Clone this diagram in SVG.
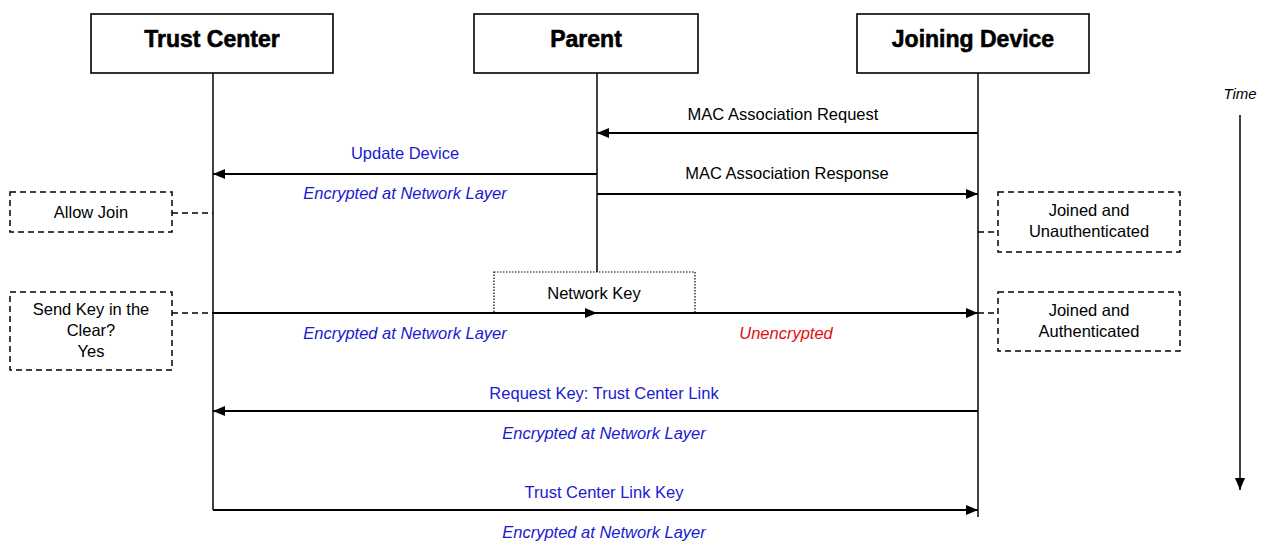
<svg xmlns="http://www.w3.org/2000/svg" width="1271" height="541" viewBox="0 0 1271 541">
<defs>
<marker id="ah" viewBox="0 0 12 10" refX="12" refY="5" markerWidth="12" markerHeight="10" markerUnits="userSpaceOnUse" orient="auto">
<path d="M0,0 L12,5 L0,10 Z" fill="#000"/>
</marker>
</defs>
<style>
.box{fill:#fff;stroke:#000;stroke-width:1.6}
.title{font-family:"Liberation Sans",Arial,sans-serif;font-weight:bold;font-size:23px;text-anchor:middle;stroke:#000;stroke-width:0.6}
.life{stroke:#000;stroke-width:1.5;fill:none}
.msg{stroke:#000;stroke-width:2;fill:none;marker-end:url(#ah)}
.lbl{font-family:"Liberation Sans",Arial,sans-serif;font-size:16.5px;text-anchor:middle;fill:#000}
.blue{fill:#1a1ad0}
.red{fill:#e01010}
.it{font-style:italic}
.note{fill:#fff;stroke:#000;stroke-width:1.5;stroke-dasharray:6,4}
.dash{stroke:#000;stroke-width:1.5;stroke-dasharray:6,4;fill:none}
.dot{fill:#fff;stroke:#000;stroke-width:1.2;stroke-dasharray:1.5,1.5}
</style>
<rect width="1271" height="541" fill="#fff"/>
<g id="lifelines">
<line class="life" x1="213" y1="73" x2="213" y2="510"/>
<line class="life" x1="597" y1="73" x2="597" y2="272"/>
<line class="life" x1="978" y1="73" x2="978" y2="517"/>
</g>
<g id="trust-center">
<rect class="box" x="91" y="14" width="242" height="59"/>
<text class="title" x="212" y="47">Trust Center</text>
</g>
<g id="parent">
<rect class="box" x="474" y="14" width="224" height="59"/>
<text class="title" x="586" y="47">Parent</text>
</g>
<g id="joining-device">
<rect class="box" x="857" y="14" width="232" height="59"/>
<text class="title" x="973" y="47">Joining Device</text>
</g>
<g id="time">
<text class="lbl it" x="1240" y="99" style="font-size:15px">Time</text>
<line class="msg" x1="1240" y1="115" x2="1240" y2="490" style="stroke-width:1.5"/>
</g>
<g id="allow-join">
<rect class="note" x="10" y="192" width="162" height="40"/>
<text class="lbl" x="91" y="218">Allow Join</text>
</g>
<g id="joined-unauth">
<rect class="note" x="998" y="192" width="182" height="60"/>
<text class="lbl" x="1089" y="216">Joined and</text>
<text class="lbl" x="1089" y="237">Unauthenticated</text>
</g>
<g id="send-key">
<rect class="note" x="10" y="292" width="162" height="78"/>
<text class="lbl" x="91" y="315">Send Key in the</text>
<text class="lbl" x="91" y="336">Clear?</text>
<text class="lbl" x="91" y="357">Yes</text>
</g>
<g id="joined-auth">
<rect class="note" x="998" y="292" width="182" height="59"/>
<text class="lbl" x="1089" y="316">Joined and</text>
<text class="lbl" x="1089" y="337">Authenticated</text>
</g>
<g id="network-key">
<rect class="dot" x="494" y="272" width="201" height="41"/>
<text class="lbl" x="594" y="299">Network Key</text>
</g>
<g id="connectors">
<line class="msg" x1="978" y1="133" x2="597" y2="133"/>
<text class="lbl" x="783" y="120">MAC Association Request</text>
<line class="msg" x1="597" y1="174" x2="213" y2="174"/>
<text class="lbl blue" x="405" y="159">Update Device</text>
<text class="lbl blue it" x="405" y="199">Encrypted at Network Layer</text>
<line class="msg" x1="597" y1="194" x2="978" y2="194"/>
<text class="lbl" x="787" y="179">MAC Association Response</text>
<line class="dash" x1="172" y1="213" x2="213" y2="213"/>
<line class="dash" x1="978" y1="232" x2="998" y2="232"/>
<line class="msg" x1="213" y1="313" x2="597" y2="313"/>
<line class="msg" x1="597" y1="313" x2="978" y2="313"/>
<line class="dash" x1="172" y1="313" x2="213" y2="313"/>
<line class="dash" x1="978" y1="313" x2="998" y2="313"/>
<text class="lbl blue it" x="405" y="339">Encrypted at Network Layer</text>
<text class="lbl red it" x="786" y="339">Unencrypted</text>
<line class="msg" x1="978" y1="411" x2="213" y2="411"/>
<text class="lbl blue" x="604" y="399">Request Key: Trust Center Link</text>
<text class="lbl blue it" x="604" y="439">Encrypted at Network Layer</text>
<line class="msg" x1="213" y1="510" x2="978" y2="510"/>
<text class="lbl blue" x="604" y="498">Trust Center Link Key</text>
<text class="lbl blue it" x="604" y="538">Encrypted at Network Layer</text>
</g>
</svg>
